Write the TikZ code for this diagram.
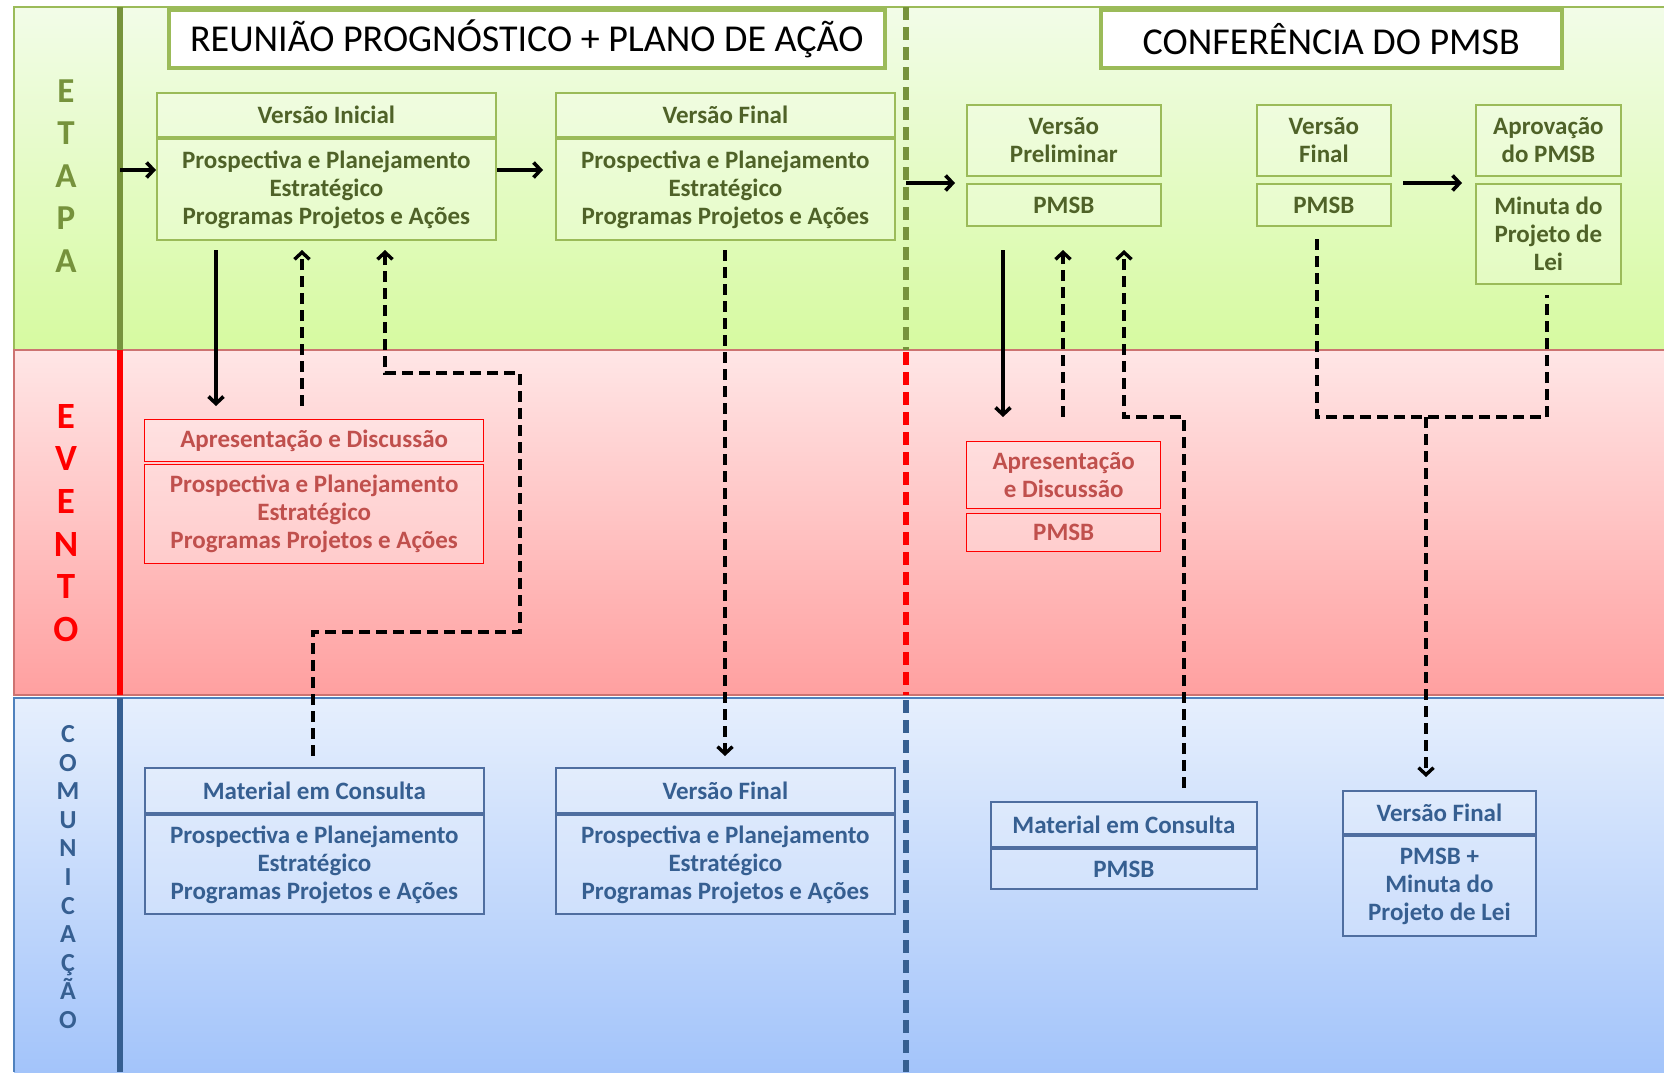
\documentclass[tikz,border=0pt]{standalone}
\usepackage{fontspec}
\setmainfont{Carlito}
\usetikzlibrary{arrows.meta}
\definecolor{txtgreen}{RGB}{79,98,40}
\definecolor{lblgreen}{RGB}{118,146,60}
\definecolor{boxgreen}{RGB}{155,187,89}
\definecolor{bargreen}{RGB}{119,147,60}
\definecolor{txtred}{RGB}{192,80,77}
\definecolor{txtblue}{RGB}{54,95,145}
\definecolor{bordblue}{RGB}{79,110,160}
\definecolor{edgeblue}{RGB}{79,129,189}
\definecolor{gtop}{RGB}{242,252,232}
\definecolor{gbot}{RGB}{214,250,160}
\definecolor{rtop}{RGB}{255,230,230}
\definecolor{rbot}{RGB}{255,160,160}
\definecolor{btop}{RGB}{230,239,253}
\definecolor{bbot}{RGB}{163,196,250}
\tikzset{
 gbox/.style={draw=boxgreen, line width=1.8pt, fill=white, fill opacity=0.25, text opacity=1, text=txtgreen, font=\bfseries\fontsize{25}{28}\selectfont, align=center, inner sep=0pt, anchor=north west},
 rbox/.style={gbox, draw=red, text=txtred, line width=1.4pt},
 bbox/.style={gbox, draw=bordblue, text=txtblue},
 titlebox/.style={draw=boxgreen, line width=3.5pt, fill=white, text=black, font=\fontsize{38}{44}\selectfont, inner sep=0pt, anchor=north west},
 arr/.style={line width=3.6pt, -{Straight Barb[length=7pt,width=15pt]}},
 dsh/.style={line width=3.4pt, dash pattern=on 11pt off 6pt},
 darr/.style={dsh, -{Straight Barb[length=7pt,width=15pt]}},
 lane/.style={font=\bfseries, align=center, inner sep=0pt},
 divider/.style={line width=6.5pt, dash pattern=on 13pt off 7pt},
}
\begin{document}
\begin{tikzpicture}[x=1pt,y=-1pt]
\useasboundingbox (0,0) rectangle (1664,1072);
% bands
\fill[white] (0,0) rectangle (1664,1072);
\shade[top color=gtop, bottom color=gbot] (14,7) rectangle (1664,350);
\shade[top color=rtop, bottom color=rbot] (14,350) rectangle (1664,695);
\shade[top color=btop, bottom color=bbot] (14,698) rectangle (1664,1072);
\draw[boxgreen, line width=1.2pt] (1664,7) -- (14,7) -- (14,350);
\draw[txtred!80, line width=1.2pt] (1664,350) -- (14,350) -- (14,695) -- (1664,695);
\draw[edgeblue, line width=1.2pt] (1664,698) -- (14,698) -- (14,1072);
% left bars
\draw[bargreen, line width=6.5pt] (120,7) -- (120,350);
\draw[red, line width=6.5pt] (120,350) -- (120,695);
\draw[txtblue, line width=5.5pt] (120,698) -- (120,1072);
% central divider
\draw[bargreen, divider] (906,7) -- (906,350);
\draw[red, divider] (906,352) -- (906,695);
\draw[txtblue, divider] (906,700) -- (906,1072);
% lane labels
\node[lane, text=lblgreen, font=\bfseries\fontsize{35}{42.5}\selectfont] (etapa) at (66,176) {E\\T\\A\\P\\A};
\node[lane, text=red, font=\bfseries\fontsize{37}{42.6}\selectfont] (evento) at (66,523) {E\\V\\E\\N\\T\\O};
\node[lane, text=txtblue, font=\bfseries\fontsize{26}{28.6}\selectfont] (comunic) at (68,877) {C\\O\\M\\U\\N\\I\\C\\A\\Ç\\Ã\\O};
% titles
\node[titlebox, minimum width=716, minimum height=58] (t1) at (167,8) {REUNIÃO PROGNÓSTICO + PLANO DE AÇÃO};
\node[titlebox, minimum width=461, minimum height=58] (t2) at (1099,8) {CONFERÊNCIA DO PMSB};
% green boxes
\node[gbox, minimum width=339, minimum height=44] (vih) at (156,92) {Versão Inicial};
\node[gbox, minimum width=339, minimum height=101] (vib) at (156,138) {Prospectiva e Planejamento\\Estratégico\\Programas Projetos e Ações};
\node[gbox, minimum width=339, minimum height=44] (vfh) at (555,92) {Versão Final};
\node[gbox, minimum width=339, minimum height=101] (vfb) at (555,138) {Prospectiva e Planejamento\\Estratégico\\Programas Projetos e Ações};
\node[gbox, minimum width=194, minimum height=71] (vph) at (966,104) {Versão\\Preliminar};
\node[gbox, minimum width=194, minimum height=42] (vpb) at (966,183) {PMSB};
\node[gbox, minimum width=134, minimum height=71] (vgh) at (1256,104) {Versão\\Final};
\node[gbox, minimum width=134, minimum height=42] (vgb) at (1256,183) {PMSB};
\node[gbox, minimum width=145, minimum height=71] (aph) at (1475,104) {Aprovação\\do PMSB};
\node[gbox, minimum width=145, minimum height=100] (apb) at (1475,183) {Minuta do\\Projeto de\\Lei};
% red boxes
\node[rbox, minimum width=339, minimum height=42] (adh) at (144,419) {Apresentação e Discussão};
\node[rbox, minimum width=339, minimum height=99] (adb) at (144,464) {Prospectiva e Planejamento\\Estratégico\\Programas Projetos e Ações};
\node[rbox, minimum width=194, minimum height=67] (aeh) at (966,441) {Apresentação\\e Discussão};
\node[rbox, minimum width=194, minimum height=38] (aeb) at (966,513) {PMSB};
% blue boxes
\node[bbox, minimum width=339, minimum height=45] (mch) at (144,767) {Material em Consulta};
\node[bbox, minimum width=339, minimum height=99] (mcb) at (144,814) {Prospectiva e Planejamento\\Estratégico\\Programas Projetos e Ações};
\node[bbox, minimum width=339, minimum height=45] (vch) at (555,767) {Versão Final};
\node[bbox, minimum width=339, minimum height=99] (vcb) at (555,814) {Prospectiva e Planejamento\\Estratégico\\Programas Projetos e Ações};
\node[bbox, minimum width=266, minimum height=45] (mdh) at (990,801) {Material em Consulta};
\node[bbox, minimum width=266, minimum height=40] (mdb) at (990,848) {PMSB};
\node[bbox, minimum width=193, minimum height=43] (vdh) at (1342,790) {Versão Final};
\node[bbox, minimum width=193, minimum height=100] (vdb) at (1342,835) {PMSB +\\Minuta do\\Projeto de Lei};
% horizontal arrows
\coordinate (h1) at (120,170);
\draw[arr] (h1) -- (h1 -| vib.west);
\coordinate (h2) at (543,170);
\draw[arr] (h2 -| vib.east) -- (h2);
\coordinate (h3a) at (906,183);
\coordinate (h3b) at (955,183);
\draw[arr] (h3a) -- (h3b);
\coordinate (h4a) at (1403,183);
\coordinate (h4b) at (1462,183);
\draw[arr] (h4a) -- (h4b);
% left vertical connectors
\coordinate (s1a) at (216,250); \coordinate (s1b) at (216,406);
\draw[arr] (s1a) -- (s1b);
\coordinate (d1a) at (302,406); \coordinate (d1b) at (302,250);
\draw[darr] (d1a) -- (d1b);
\coordinate (d2a) at (313,756); \coordinate (d2b) at (385,250);
\draw[darr] (d2a) -- (313,632) -- (520,632) -- (520,373) -- (385,373) -- (d2b);
\coordinate (d3a) at (725,250); \coordinate (d3b) at (725,756);
\draw[darr] (d3a) -- (d3b);
% right vertical connectors
\coordinate (s2a) at (1003,250); \coordinate (s2b) at (1003,417);
\draw[arr] (s2a) -- (s2b);
\coordinate (d4a) at (1063,417); \coordinate (d4b) at (1063,250);
\draw[darr] (d4a) -- (d4b);
\coordinate (d5a) at (1184,788); \coordinate (d5b) at (1124,250);
\draw[darr] (d5a) -- (1184,417) -- (1124,417) -- (d5b);
\coordinate (d6a) at (1317,239); \coordinate (d6b) at (1547,295);
\draw[dsh] (d6a) -- (1317,417) -- (1547,417) -- (d6b);
\coordinate (d7a) at (1426,417); \coordinate (d7b) at (1426,777);
\draw[darr] (d7a) -- (d7b);
\end{tikzpicture}
\end{document}
